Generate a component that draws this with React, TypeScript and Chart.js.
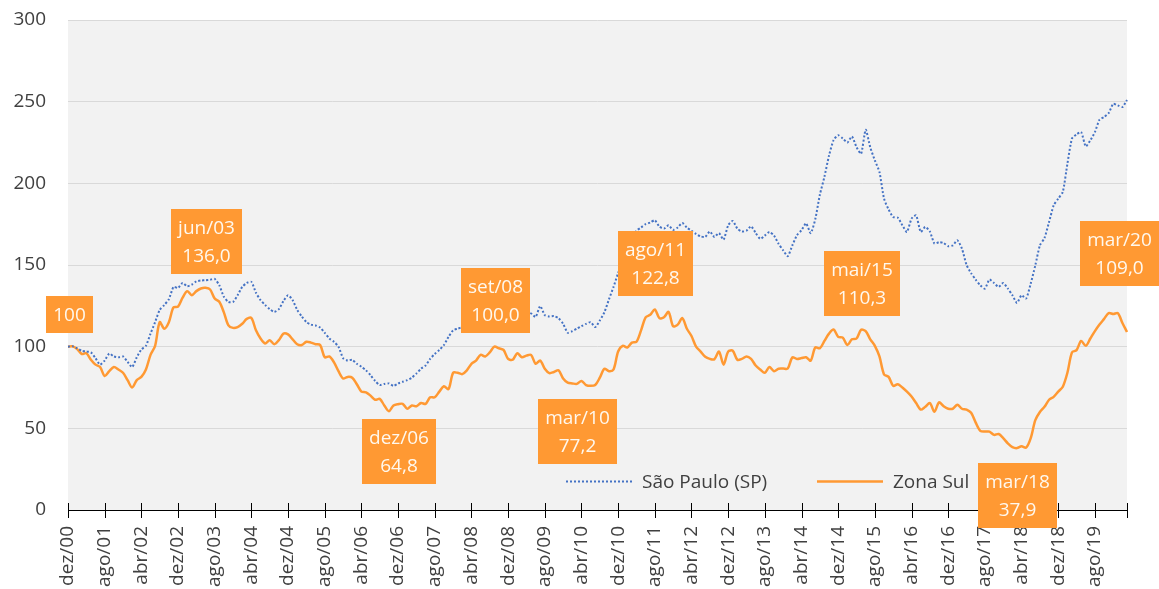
import React, { useEffect, useRef } from 'react';
import { Chart, registerables } from 'chart.js';

Chart.register(...registerables);

const MONTH_NAMES = ['jan', 'fev', 'mar', 'abr', 'mai', 'jun', 'jul', 'ago', 'set', 'out', 'nov', 'dez'];
const START_YEAR = 2000;
const START_MONTH = 11; // dez
const POINT_COUNT = 232; // dez/00 .. mar/20

const categories: string[] = [];
for (let i = 0; i < POINT_COUNT; i++) {
  const mIdx = (START_MONTH + i) % 12;
  const yr = START_YEAR + Math.floor((START_MONTH + i) / 12);
  categories.push(MONTH_NAMES[mIdx] + '/' + String(yr % 100).padStart(2, '0'));
}

const saoPaulo = [
  100, 100.3, 99, 97.5, 97, 96.5, 93, 89, 91.5, 95.8, 94, 93.5,
  94, 90.7, 87.5, 93.5, 98.3, 100.5, 108, 115, 122.5, 125.5, 129, 136.5,
  136, 139, 137, 138, 140, 140.5, 140.7, 141, 141.5, 137.6, 130.5, 127.4,
  127.4, 131.5, 136.6, 139, 139.7, 133, 128.5, 125.5, 123, 121.3, 123, 128,
  131.5, 128.5, 122.5, 118.5, 115, 113.5, 113, 111.7, 108.5, 105, 103, 100,
  93, 91.5, 92, 89.5, 87.7, 85.5, 82.5, 79, 76.5, 77.2, 77.5, 76,
  77.5, 78.5, 79.5, 81, 83.5, 86.5, 88.5, 92.5, 95.5, 98, 101, 106,
  110, 111, 112, 113.5, 115, 116, 117, 118, 117.5, 118.5, 117, 116,
  115.5, 117, 116, 118, 117, 120.3, 118.2, 124.9, 119.3, 118.5, 118.7, 117.5,
  114, 108.5, 109.5, 111, 112.5, 114, 115, 112, 116, 121, 129, 136.6,
  145, 152, 160, 166, 171, 173, 175, 176, 177.4, 173.5, 172.3, 174.3,
  171.5, 173, 175.7, 172.9, 171, 169, 167.5, 167.2, 170.5, 167.2, 169.5, 165.5,
  174.3, 177, 172.3, 170.5, 171, 173.7, 169.6, 166, 168, 170.2, 168, 163,
  159, 155.4, 162, 168.2, 171.3, 175.5, 169.5, 178, 193, 204, 217, 226.5,
  229.4, 227.5, 225, 228.7, 222.2, 218.1, 232.8, 222, 214, 207, 190.6, 184,
  179.4, 179, 174.3, 170.2, 178.4, 180.4, 170.2, 173.3, 170.5, 163.1, 164, 163.5,
  161.5, 162, 165.1, 160, 150, 145, 141, 137.6, 135.5, 141.1, 139, 136.6,
  139, 135.6, 131.5, 126.8, 131.5, 129.5, 138.6, 149.8, 162, 166.5, 176.3, 186.5,
  190.6, 194.7, 212, 227.5, 230, 231.4, 222.6, 226.3, 231.4, 238.9, 240.6, 243,
  248.7, 247.7, 246.7, 251,
];

const zonaSul = [
  100, 100.2, 98.5, 95.5, 96, 92, 89, 87.5, 82, 85, 87.5, 86,
  84, 79.5, 75, 79.5, 81.5, 86, 95, 100.5, 115, 111, 115, 124,
  124.5, 130, 134, 131.5, 134, 135.6, 136, 135, 129.5, 127.5, 121, 113,
  111.5, 112, 114, 117, 117.5, 110, 105, 102, 104, 101.5, 104, 108,
  107.5, 104.5, 101.5, 101, 103, 102.5, 101.5, 101, 93.5, 94, 90.5, 85,
  80.5, 81.5, 81, 77, 72.5, 72, 70, 67.5, 68, 64, 60.5, 64,
  64.8, 65, 62, 64, 63.5, 65.5, 65, 69, 69, 72.5, 75.8, 74,
  84, 84, 83.2, 85.5, 89.5, 91.5, 95, 94, 96.5, 100, 99, 98,
  92.5, 92, 96, 93.5, 94.5, 95, 89.5, 91.5, 86.5, 83.8, 84.5, 85.5,
  80.5, 78, 77.5, 77.2, 79, 76.5, 76, 76.5, 81, 86.5, 85, 86,
  97, 100.5, 99.5, 102.5, 103, 110, 118, 119.5, 122.8, 117.5, 118, 121.3,
  112.5, 113.5, 117.5, 111, 106.5, 100, 97, 93.8, 92.5, 92.3, 97, 89,
  97, 97.5, 92, 92.5, 94, 92.5, 88.5, 86, 84, 87.5, 85, 86.5,
  86.6, 86.6, 93.5, 92.5, 93, 93.5, 91.5, 99.5, 99, 103.5, 108, 110.5,
  106, 105.5, 101, 104.5, 105, 110.3, 109.5, 104.5, 100.5, 94, 83, 81.5,
  76, 77, 75, 72.5, 69.5, 65.5, 61.5, 63.2, 65.5, 60.1, 65.9, 63.5,
  62, 62, 64.5, 62, 61.5, 59.5, 53.5, 48.5, 48, 48, 46, 46.5,
  44, 40.8, 38.5, 37.9, 39, 38.2, 44, 55, 60, 63.2, 67.5, 69.3,
  72.5, 75.5, 84, 96.5, 97.9, 103.5, 100.5, 105, 109.5, 113.5, 117, 120.5,
  120, 120.5, 114.5, 109,
];

const yTicks = [0, 50, 100, 150, 200, 250, 300];

const seriesNames = ['São Paulo (SP)', 'Zona Sul'];

// data callouts on the Zona Sul series
const calloutIndex = [0, 30, 72, 93, 111, 128, 173, 207, 231];
const calloutText = [
  ['100'],
  ['jun/03', '136,0'],
  ['dez/06', '64,8'],
  ['set/08', '100,0'],
  ['mar/10', '77,2'],
  ['ago/11', '122,8'],
  ['mai/15', '110,3'],
  ['mar/18', '37,9'],
  ['mar/20', '109,0'],
];
const calloutShift = [-32, -46, 47.5, -46, 47.5, -46, -46, 47.5, -78];

const BLUE = '#4472C4';
const ORANGE = '#FF9933';
const TEXT = '#404040';
const FONT = '"Open Sans", "Noto Sans", sans-serif';

// target plot rectangle inside the 1159x589 canvas
const PLOT = { left: 68, top: 20, right: 1127, bottom: 510 };

export default function App() {
  const ref = useRef<HTMLCanvasElement | null>(null);

  useEffect(() => {
    if (!ref.current) return;

    const bgPlugin = {
      id: 'plotBg',
      beforeDraw(chart: any) {
        const { ctx, chartArea: a } = chart;
        ctx.save();
        ctx.fillStyle = '#F2F2F2';
        ctx.fillRect(a.left, a.top, a.right - a.left, a.bottom - a.top);
        ctx.restore();
      },
    };

    const overlayPlugin = {
      id: 'overlay',
      afterDraw(chart: any) {
        const { ctx, chartArea: a } = chart;
        const xs = chart.scales.x;
        const ys = chart.scales.y;
        ctx.save();
        // tick marks crossing the axis
        ctx.strokeStyle = '#000';
        ctx.lineWidth = 1;
        ctx.beginPath();
        for (let i = 0; i < POINT_COUNT; i++) {
          if (i % 8 === 0 || i === POINT_COUNT - 1) {
            const px = Math.round(xs.getPixelForValue(i)) + 0.5;
            ctx.moveTo(px, a.bottom - 7);
            ctx.lineTo(px, a.bottom + 8);
          }
        }
        ctx.stroke();

        // legend inside plot
        const ly = a.bottom - 28.5;
        const legendX = [a.left + 498, a.left + 749];
        ctx.font = '19px ' + FONT;
        ctx.textBaseline = 'middle';
        ctx.textAlign = 'left';
        for (let k = 0; k < 2; k++) {
          const lx = legendX[k];
          ctx.beginPath();
          if (k === 0) {
            ctx.setLineDash([2, 2]);
            ctx.strokeStyle = BLUE;
            ctx.lineWidth = 2;
          } else {
            ctx.setLineDash([]);
            ctx.strokeStyle = ORANGE;
            ctx.lineWidth = 2.5;
          }
          ctx.moveTo(lx, ly);
          ctx.lineTo(lx + 66, ly);
          ctx.stroke();
          ctx.setLineDash([]);
          ctx.fillStyle = TEXT;
          ctx.fillText(seriesNames[k], lx + 76, ly + 1);
        }

        // callouts
        ctx.font = '19px ' + FONT;
        ctx.textAlign = 'center';
        ctx.textBaseline = 'middle';
        for (let c = 0; c < calloutIndex.length; c++) {
          const idx = calloutIndex[c];
          const lines = calloutText[c];
          const px = xs.getPixelForValue(idx);
          const py = ys.getPixelForValue(zonaSul[idx]);
          let tw = 0;
          for (const l of lines) tw = Math.max(tw, ctx.measureText(l).width);
          const w = Math.round(tw + 14);
          const h = lines.length * 28 + 9;
          let left = px + 1 - w / 2;
          if (left + w > chart.width) left = chart.width - w;
          const top = py + calloutShift[c] - h / 2;
          ctx.fillStyle = ORANGE;
          ctx.fillRect(Math.round(left), Math.round(top), w, h);
          ctx.fillStyle = '#FFF8EE';
          for (let i = 0; i < lines.length; i++) {
            ctx.fillText(lines[i], Math.round(left) + w / 2, Math.round(top) + 19.5 + i * 28);
          }
        }
        ctx.restore();
      },
    };

    const chart = new Chart(ref.current, {
      type: 'line',
      data: {
        labels: categories,
        datasets: [
          {
            label: seriesNames[0],
            data: saoPaulo,
            borderColor: BLUE,
            borderWidth: 2,
            borderDash: [2, 2],
            pointRadius: 0,
            tension: 0.2,
            fill: false,
          },
          {
            label: seriesNames[1],
            data: zonaSul,
            borderColor: ORANGE,
            borderWidth: 2.5,
            pointRadius: 0,
            tension: 0.3,
            fill: false,
          },
        ],
      },
      options: {
        animation: false,
        responsive: false,
        devicePixelRatio: 1,
        layout: { padding: { top: 20, right: 32, left: 0, bottom: 0 } },
        plugins: {
          legend: { display: false },
          tooltip: { enabled: false },
        },
        scales: {
          x: {
            type: 'category',
            offset: false,
            grid: { display: true, drawOnChartArea: false, drawTicks: false },
            border: { display: true, color: '#000', width: 1 },
            ticks: {
              autoSkip: false,
              maxRotation: 90,
              minRotation: 90,
              padding: 16,
              color: TEXT,
              font: { family: FONT, size: 19 },
              callback: function (this: any, value: any, index: number) {
                return index % 8 === 0 ? categories[index] : '';
              },
            },
            afterFit: (scale: any) => {
              scale.height = 589 - PLOT.bottom;
              scale.paddingLeft = 0;
              scale.paddingRight = 0;
              scale.paddingTop = 0;
              scale.paddingBottom = 0;
            },
          },
          y: {
            min: 0,
            max: 300,
            afterBuildTicks: (scale: any) => {
              scale.ticks = yTicks.map((v) => ({ value: v }));
            },
            grid: { color: '#D9D9D9', lineWidth: 1, drawTicks: false },
            border: { display: false },
            ticks: {
              padding: 22,
              color: TEXT,
              font: { family: FONT, size: 19 },
            },
            afterFit: (scale: any) => {
              scale.width = PLOT.left;
              scale.paddingTop = 0;
              scale.paddingBottom = 0;
              scale.paddingLeft = 0;
              scale.paddingRight = 0;
            },
          },
        },
      },
      plugins: [bgPlugin, overlayPlugin],
    } as any);

    return () => {
      chart.destroy();
    };
  }, []);

  return (
    <div style={{ position: 'absolute', left: 0, top: 0, width: 1159, height: 589, background: '#fff' }}>
      <canvas ref={ref} width={1159} height={589} style={{ display: 'block' }} />
    </div>
  );
}
